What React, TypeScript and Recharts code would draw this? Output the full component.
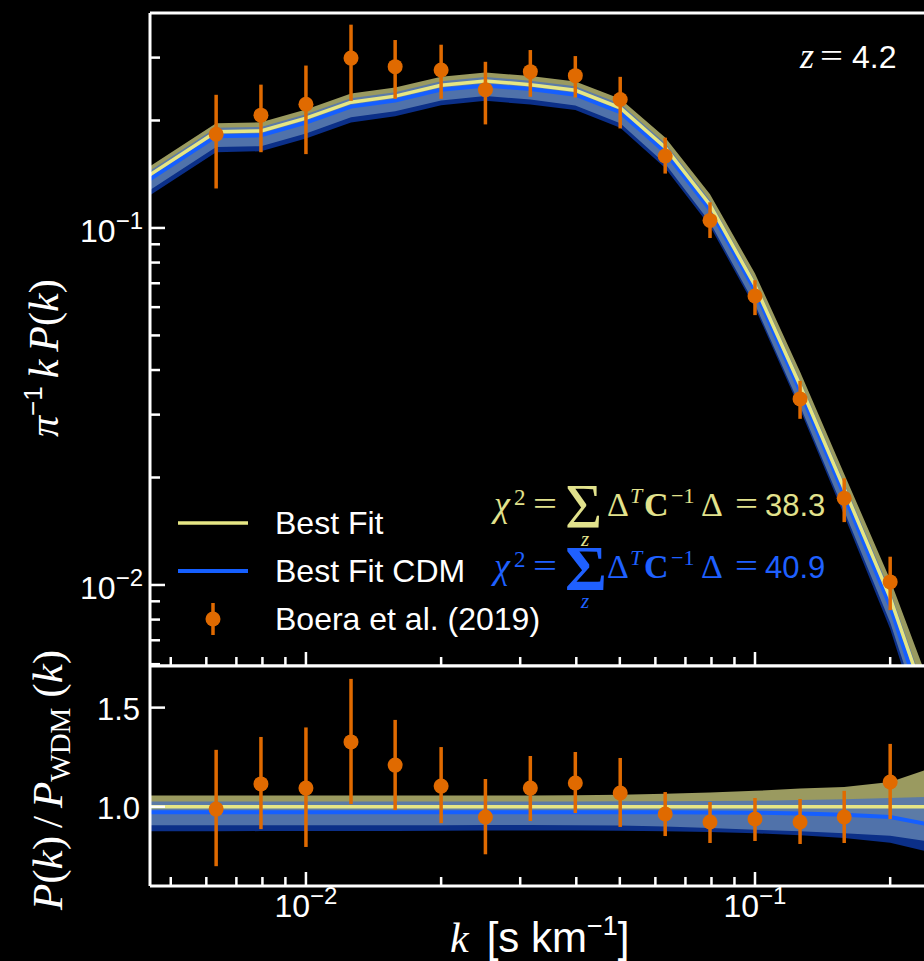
import {
  Area,
  ComposedChart,
  ErrorBar,
  Line,
  ReferenceLine,
  Scatter,
  XAxis,
  YAxis,
} from 'recharts'

const SANS = "'Liberation Sans', Arial, Helvetica, sans-serif"
const SERIF = "'Liberation Serif', 'Times New Roman', serif"

const WHITE = '#ffffff'
const OLIVE = '#9a9a60'
const NAVY = '#0b2f88'
const STEEL = '#5778ad'
const BLUE = '#155fff'
const YELLOW = '#e6e684'
const ORANGE = '#e06a00'
const TXT_YELLOW = '#e2e28c'
const TXT_BLUE = '#1f60ff'

// model grid, k in s/km
const kModel = [0.00398, 0.00631, 0.00794, 0.01, 0.0126, 0.0158, 0.02, 0.0251, 0.0316, 0.0398, 0.0501, 0.0631, 0.0794, 0.1, 0.126, 0.158, 0.2, 0.251]
// WDM best fit, pi^-1 k P(k)
const bestFit = [0.1276, 0.186, 0.187, 0.203, 0.225, 0.234, 0.251, 0.258, 0.252, 0.243, 0.217, 0.168, 0.116, 0.069, 0.0362, 0.0186, 0.0092, 0.00402]
// everything below is relative to the WDM best fit
const wdmHi = [1.057, 1.057, 1.057, 1.057, 1.057, 1.057, 1.057, 1.057, 1.057, 1.058, 1.06, 1.066, 1.072, 1.08, 1.092, 1.1, 1.125, 1.2]
const wdmLo = [0.945, 0.945, 0.945, 0.945, 0.945, 0.945, 0.945, 0.945, 0.945, 0.944, 0.942, 0.938, 0.934, 0.928, 0.92, 0.912, 0.895, 0.84]
const cdmLine = [0.972, 0.972, 0.972, 0.972, 0.972, 0.972, 0.972, 0.972, 0.972, 0.972, 0.972, 0.972, 0.971, 0.97, 0.966, 0.96, 0.948, 0.905]
const cdm1Hi = [1.026, 1.026, 1.026, 1.026, 1.026, 1.026, 1.026, 1.026, 1.026, 1.026, 1.027, 1.028, 1.029, 1.03, 1.034, 1.038, 1.044, 1.05]
const cdm1Lo = [0.906, 0.906, 0.906, 0.906, 0.907, 0.907, 0.907, 0.908, 0.908, 0.907, 0.905, 0.9, 0.893, 0.884, 0.876, 0.866, 0.854, 0.82]
const cdm2Lo = [0.876, 0.876, 0.877, 0.877, 0.878, 0.878, 0.879, 0.88, 0.88, 0.88, 0.879, 0.876, 0.872, 0.866, 0.856, 0.842, 0.818, 0.765]

// Boera et al. (2019), z = 4.2
const kData = [0.00631, 0.00794, 0.01, 0.0126, 0.0158, 0.02, 0.0251, 0.0316, 0.0398, 0.0501, 0.0631, 0.0794, 0.1, 0.126, 0.158, 0.2]
const pData = [0.183, 0.207, 0.222, 0.299, 0.283, 0.277, 0.244, 0.274, 0.267, 0.229, 0.159, 0.105, 0.0645, 0.0332, 0.0175, 0.0102]
const pHi = [0.236, 0.252, 0.285, 0.371, 0.336, 0.326, 0.292, 0.315, 0.303, 0.265, 0.179, 0.118, 0.0714, 0.0373, 0.0199, 0.012]
const pLo = [0.129, 0.163, 0.161, 0.227, 0.23, 0.23, 0.195, 0.233, 0.232, 0.19, 0.142, 0.0937, 0.057, 0.0292, 0.015, 0.0085]
const rData = [0.988, 1.115, 1.094, 1.327, 1.21, 1.104, 0.948, 1.094, 1.12, 1.069, 0.963, 0.923, 0.938, 0.923, 0.948, 1.125]
const rHi = [1.287, 1.352, 1.4, 1.645, 1.438, 1.301, 1.14, 1.256, 1.276, 1.246, 1.074, 1.024, 1.044, 1.039, 1.08, 1.317]
const rLo = [0.7, 0.887, 0.797, 1.013, 0.983, 0.917, 0.76, 0.928, 0.968, 0.898, 0.852, 0.817, 0.827, 0.812, 0.817, 0.938]

const xTicks = [0.005, 0.006, 0.007, 0.008, 0.009, 0.01, 0.02, 0.03, 0.04, 0.05, 0.06, 0.07, 0.08, 0.09, 0.1, 0.2]
const xMajor: Record<string, string> = { '0.01': '−2', '0.1': '−1' }
const yTicksTop = [0.006, 0.007, 0.008, 0.009, 0.01, 0.02, 0.03, 0.04, 0.05, 0.06, 0.07, 0.08, 0.09, 0.1, 0.2, 0.3]
const yMajorTop: Record<string, string> = { '0.01': '−2', '0.1': '−1' }
const yTicksBottom = [1.0, 1.5]

const X_DOMAIN = [0.004495, 0.2861]
const Y_DOMAIN_TOP = [0.00593, 0.4]
const Y_DOMAIN_BOTTOM = [0.6, 1.71]

const modelTop = kModel.map((k, i) => {
  const f = bestFit[i]
  return {
    k,
    wdm: f,
    wdmBand: [f * wdmLo[i], f * wdmHi[i]],
    cdm: f * cdmLine[i],
    cdm1: [f * cdm1Lo[i], f * cdm1Hi[i]],
    cdm2: [f * cdm2Lo[i], f * cdmLine[i]],
  }
})

const modelRatio = kModel.map((k, i) => ({
  k,
  wdm: 1,
  wdmBand: [wdmLo[i], wdmHi[i]],
  cdm: cdmLine[i],
  cdm1: [cdm1Lo[i], cdm1Hi[i]],
  cdm2: [cdm2Lo[i], cdmLine[i]],
}))

const pointsTop = kData.map((k, i) => ({ k, v: pData[i], err: [pData[i] - pLo[i], pHi[i] - pData[i]] }))
const pointsRatio = kData.map((k, i) => ({ k, v: rData[i], err: [rData[i] - rLo[i], rHi[i] - rData[i]] }))

function XTick(props: any) {
  const { x, y, payload, showLabel } = props
  const exp = xMajor[String(payload.value)]
  return (
    <g>
      <line x1={x} x2={x} y1={y} y2={y - (exp ? 14 : 9)} stroke={WHITE} strokeWidth={2.5} />
      {showLabel && exp && (
        <text x={x} y={y + 31} textAnchor="middle" fill={WHITE} fontSize={32} fontFamily={SANS}>
          10<tspan dy={-13} fontSize={24}>{exp}</tspan>
        </text>
      )}
    </g>
  )
}

function YTickTop(props: any) {
  const { x, y, payload } = props
  const exp = yMajorTop[String(payload.value)]
  return (
    <g>
      <line x1={x} x2={x + (exp ? 15 : 10)} y1={y} y2={y} stroke={WHITE} strokeWidth={2.5} />
      {exp && (
        <text x={x - 7} y={y + 14} textAnchor="end" fill={WHITE} fontSize={32} fontFamily={SANS}>
          10<tspan dy={-13} fontSize={24}>{exp}</tspan>
        </text>
      )}
    </g>
  )
}

function YTickBottom(props: any) {
  const { x, y, payload } = props
  return (
    <g>
      <line x1={x} x2={x + 15} y1={y} y2={y} stroke={WHITE} strokeWidth={2.5} />
      <text x={x - 10} y={y + 12} textAnchor="end" fill={WHITE} fontSize={31} fontFamily={SANS}>
        {payload.value.toFixed(1)}
      </text>
    </g>
  )
}

const dot = (p: any) => <circle cx={p.cx} cy={p.cy} r={7.5} fill={ORANGE} />

function series(points: any[]) {
  return [
    <Area key="wdmBand" dataKey="wdmBand" type="linear" stroke="none" fill={OLIVE} fillOpacity={1} isAnimationActive={false} />,
    <Area key="cdm2" dataKey="cdm2" type="linear" stroke="none" fill={NAVY} fillOpacity={1} isAnimationActive={false} />,
    <Area key="cdm1" dataKey="cdm1" type="linear" stroke="none" fill={STEEL} fillOpacity={0.92} isAnimationActive={false} />,
    <Line key="cdm" dataKey="cdm" type="linear" stroke={BLUE} strokeWidth={4} dot={false} activeDot={false} isAnimationActive={false} />,
    <Line key="wdm" dataKey="wdm" type="linear" stroke={YELLOW} strokeWidth={3.5} dot={false} activeDot={false} isAnimationActive={false} />,
    <Scatter key="pts" data={points} dataKey="v" shape={dot} isAnimationActive={false}>
      <ErrorBar dataKey="err" direction="y" width={0} stroke={ORANGE} strokeWidth={3.5} isAnimationActive={false} />
    </Scatter>,
  ]
}

function ChiSq({ y, color, value, bold }: { y: number; color: string; value: string; bold?: boolean }) {
  const w = bold ? 'bold' : 'normal'
  return (
    <g fill={color}>
      <text x={494} y={y} fontSize={36} fontFamily={SERIF} fontStyle="italic">χ</text>
      <text x={514} y={y - 11} fontSize={23} fontFamily={SERIF}>2</text>
      <text x={533} y={y - 1} fontSize={34} fontFamily={SERIF} textLength={24} lengthAdjust="spacingAndGlyphs">=</text>
      <text fontFamily={SERIF}>
        <tspan x={565} y={y + 12} fontSize={64} fontWeight={w}>Σ</tspan>
        <tspan x={581} y={y + 30} fontSize={21} fontStyle="italic">z</tspan>
      </text>
      <text x={607} y={y} fontSize={34} fontFamily={SERIF}>Δ</text>
      <text x={630} y={y - 13} fontSize={22} fontFamily={SERIF} fontStyle="italic">T</text>
      <text x={644} y={y} fontSize={34} fontFamily={SERIF} fontWeight="bold">C</text>
      <text x={671} y={y - 13} fontSize={22} fontFamily={SERIF}>−1</text>
      <text x={701} y={y} fontSize={34} fontFamily={SERIF}>Δ</text>
      <text x={735} y={y - 1} fontSize={34} fontFamily={SERIF} textLength={23} lengthAdjust="spacingAndGlyphs">=</text>
      <text x={765} y={y} fontSize={31} fontFamily={SANS}>{value}</text>
    </g>
  )
}

export default function App() {
  return (
    <div style={{ position: 'absolute', left: 0, top: 0, width: 924, height: 961, background: '#000', overflow: 'hidden' }}>
      <div style={{ position: 'absolute', left: 0, top: 0 }}>
        <ComposedChart width={960} height={667} data={modelTop} margin={{ top: 13, right: 0, bottom: 0, left: 0 }}>
          <XAxis
            dataKey="k"
            type="number"
            scale="log"
            domain={X_DOMAIN}
            allowDataOverflow
            ticks={xTicks}
            interval={0}
            height={1}
            tickSize={0}
            tickMargin={0}
            axisLine={{ stroke: WHITE, strokeWidth: 3 }}
            tickLine={false}
            tick={(p: any) => <XTick {...p} showLabel={false} />}
          />
          <YAxis
            type="number"
            scale="log"
            domain={Y_DOMAIN_TOP}
            allowDataOverflow
            ticks={yTicksTop}
            interval={0}
            width={150}
            tickSize={0}
            tickMargin={0}
            axisLine={{ stroke: WHITE, strokeWidth: 3 }}
            tickLine={false}
            tick={(p: any) => <YTickTop {...p} />}
          />
          {series(pointsTop)}
          <ReferenceLine y={Y_DOMAIN_TOP[1]} stroke={WHITE} strokeWidth={3} />
        </ComposedChart>
      </div>
      <div style={{ position: 'absolute', left: 0, top: 0 }}>
        <ComposedChart width={960} height={961} data={modelRatio} margin={{ top: 666, right: 0, bottom: 0, left: 0 }}>
          <XAxis
            dataKey="k"
            type="number"
            scale="log"
            domain={X_DOMAIN}
            allowDataOverflow
            ticks={xTicks}
            interval={0}
            height={75}
            tickSize={0}
            tickMargin={0}
            axisLine={{ stroke: WHITE, strokeWidth: 3 }}
            tickLine={false}
            tick={(p: any) => <XTick {...p} showLabel />}
          />
          <YAxis
            type="number"
            domain={Y_DOMAIN_BOTTOM}
            allowDataOverflow
            ticks={yTicksBottom}
            interval={0}
            width={150}
            tickSize={0}
            tickMargin={0}
            axisLine={{ stroke: WHITE, strokeWidth: 3 }}
            tickLine={false}
            tick={(p: any) => <YTickBottom {...p} />}
          />
          {series(pointsRatio)}
          <ReferenceLine y={Y_DOMAIN_BOTTOM[1]} stroke={WHITE} strokeWidth={3} />
        </ComposedChart>
      </div>
      <svg width={924} height={961} style={{ position: 'absolute', left: 0, top: 0, pointerEvents: 'none' }}>
        {/* redshift tag */}
        <text x={800} y={68} fill={WHITE} fontSize={36} fontFamily={SERIF} fontStyle="italic">z</text>
        <text x={820} y={67} fill={WHITE} fontSize={34} fontFamily={SERIF} textLength={23} lengthAdjust="spacingAndGlyphs">=</text>
        <text x={852} y={68} fill={WHITE} fontSize={32} fontFamily={SANS}>4.2</text>

        {/* legend */}
        <line x1={178} x2={248} y1={523} y2={523} stroke={YELLOW} strokeWidth={3.5} />
        <text x={275} y={534} fill={WHITE} fontSize={32} fontFamily={SANS}>Best Fit</text>
        <line x1={178} x2={248} y1={571} y2={571} stroke={BLUE} strokeWidth={4} />
        <text x={275} y={582} fill={WHITE} fontSize={32} fontFamily={SANS}>Best Fit CDM</text>
        <line x1={213} x2={213} y1={603} y2={635} stroke={ORANGE} strokeWidth={3.5} />
        <circle cx={213} cy={619} r={7.5} fill={ORANGE} />
        <text x={275} y={630} fill={WHITE} fontSize={32} fontFamily={SANS}>Boera et al. (2019)</text>

        <ChiSq y={516} color={TXT_YELLOW} value="38.3" />
        <ChiSq y={578} color={TXT_BLUE} value="40.9" bold />

        {/* axis labels */}
        <text transform="translate(58,437) rotate(-90)" fill={WHITE} fontSize={42} fontFamily={SERIF}>
          <tspan fontStyle="italic">π</tspan>
          <tspan dy={-16} fontSize={26} fontFamily={SANS}>−1</tspan>
          <tspan dy={16} dx={8} fontStyle="italic">k</tspan>
          <tspan dx={8} fontStyle="italic">P</tspan>
          <tspan>(</tspan>
          <tspan fontStyle="italic">k</tspan>
          <tspan>)</tspan>
        </text>
        <text transform="translate(62,910) rotate(-90)" fill={WHITE} fontSize={43} fontFamily={SERIF}>
          <tspan fontStyle="italic">P</tspan>
          <tspan>(</tspan>
          <tspan fontStyle="italic">k</tspan>
          <tspan>)</tspan>
          <tspan dx={8}>/</tspan>
          <tspan dx={8} fontStyle="italic">P</tspan>
          <tspan dy={8} fontSize={29}>WDM</tspan>
          <tspan dy={-8} dx={10}>(</tspan>
          <tspan fontStyle="italic">k</tspan>
          <tspan>)</tspan>
        </text>
        <text x={450} y={952} fill={WHITE} fontSize={42} fontFamily={SERIF}>
          <tspan fontStyle="italic">k</tspan>
          <tspan dx={18} fontFamily={SANS} fontSize={42}>[s km</tspan>
          <tspan dy={-17} fontFamily={SANS} fontSize={27}>−1</tspan>
          <tspan dy={17} fontFamily={SANS} fontSize={42}>]</tspan>
        </text>
      </svg>
    </div>
  )
}
